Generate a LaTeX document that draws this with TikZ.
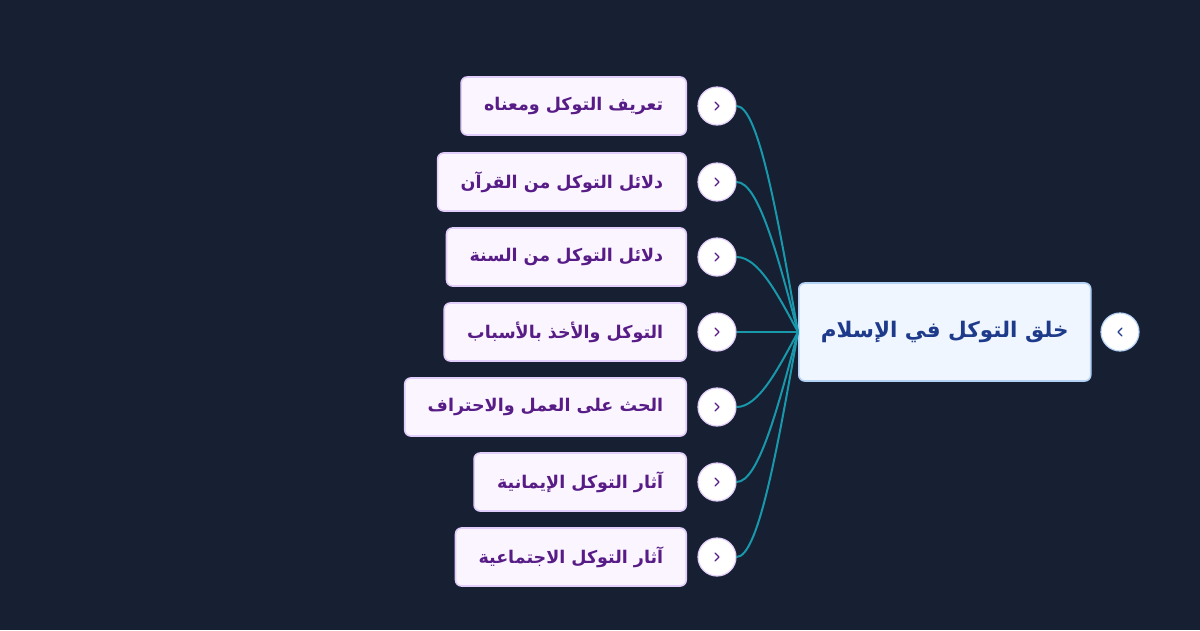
\documentclass[tikz,border=0pt]{standalone}
\usepackage{fontspec}
\usepackage{xcolor}
\usepackage{tikz}
\usetikzlibrary{calc,positioning}
\TeXXeTstate=1
\newfontfamily\arabicfont[Script=Arabic]{DejaVu Sans}
\definecolor{bgNavy}{RGB}{23,31,50}
\definecolor{leafFill}{RGB}{250,245,255}
\definecolor{leafLine}{RGB}{226,206,250}
\definecolor{leafText}{RGB}{88,28,135}
\definecolor{rootFill}{RGB}{239,246,255}
\definecolor{rootLine}{RGB}{180,210,245}
\definecolor{rootText}{RGB}{30,58,138}
\definecolor{linkTeal}{RGB}{24,152,170}

\tikzset{
  leafbox/.style={draw=leafLine, fill=leafFill, line width=1.6pt, rounded corners=6pt,
    minimum height=58pt, inner xsep=23pt, anchor=east, text=leafText,
    font=\arabicfont\bfseries\fontsize{17.5}{20}\selectfont},
  rootbox/.style={draw=rootLine, fill=rootFill, line width=1.6pt, rounded corners=6pt,
    minimum height=98pt, inner xsep=22pt, anchor=west, text=rootText,
    font=\arabicfont\bfseries\fontsize{21.5}{26}\selectfont},
  knob/.style={circle, draw=leafLine, fill=white, line width=1.2pt, minimum size=38pt, inner sep=0pt},
  rootknob/.style={circle, draw=rootLine, fill=white, line width=1.2pt, minimum size=38pt, inner sep=0pt},
  link/.style={draw=linkTeal, line width=2pt}
}

\begin{document}
\begin{tikzpicture}[x=1pt,y=-1pt]

% =========================
% background
% =========================
\fill[bgNavy] (0,0) rectangle (1200,630);
\useasboundingbox (0,0) rectangle (1200,630);

% =========================
% root
% =========================
\node[rootbox] (root) at (798,332) {\beginR خلق التوكل في الإسلام\endR};
\node[rootknob] (rk) at (1120,332) {};
\draw[rootText, line width=1.2pt, line cap=round, line join=round]
    ($(rk)+(2,-4)$) -- ($(rk)+(-2,0)$) -- ($(rk)+(2,4)$);

% =========================
% branches
% =========================
\node[leafbox] (b1) at (687,106) {\beginR تعريف التوكل ومعناه\endR};
\node[leafbox] (b2) at (687,182) {\beginR دلائل التوكل من القرآن\endR};
\node[leafbox] (b3) at (687,257) {\beginR دلائل التوكل من السنة\endR};
\node[leafbox] (b4) at (687,332) {\beginR التوكل والأخذ بالأسباب\endR};
\node[leafbox] (b5) at (687,407) {\beginR الحث على العمل والاحتراف\endR};
\node[leafbox] (b6) at (687,482) {\beginR آثار التوكل الإيمانية\endR};
\node[leafbox] (b7) at (687,557) {\beginR آثار التوكل الاجتماعية\endR};

% knobs next to the branches
\node[knob] (k1) at (717,106) {};
\node[knob] (k2) at (717,182) {};
\node[knob] (k3) at (717,257) {};
\node[knob] (k4) at (717,332) {};
\node[knob] (k5) at (717,407) {};
\node[knob] (k6) at (717,482) {};
\node[knob] (k7) at (717,557) {};

\foreach \k in {k1,k2,k3,k4,k5,k6,k7}
    \draw[leafText, line width=1.2pt, line cap=round, line join=round]
        ($(\k)+(-2,-4)$) -- ($(\k)+(2,0)$) -- ($(\k)+(-2,4)$);

% =========================
% links to the root
% =========================
\draw[link] (k1.east) .. controls +(22,0) and +(-20,-113) .. (root.west);
\draw[link] (k2.east) .. controls +(22,0) and +(-20,-75) .. (root.west);
\draw[link] (k3.east) .. controls +(22,0) and +(-20,-37) .. (root.west);
\draw[link] (k4.east) -- (root.west);
\draw[link] (k5.east) .. controls +(22,0) and +(-20,37) .. (root.west);
\draw[link] (k6.east) .. controls +(22,0) and +(-20,75) .. (root.west);
\draw[link] (k7.east) .. controls +(22,0) and +(-20,113) .. (root.west);

\end{tikzpicture}
\end{document}
